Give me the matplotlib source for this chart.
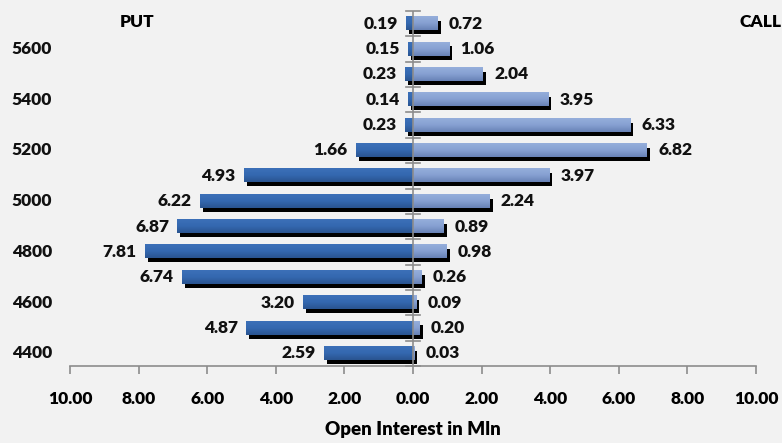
import numpy as np
import matplotlib
matplotlib.use("Agg")
import matplotlib.pyplot as plt
import matplotlib.transforms as mtransforms
from matplotlib.colors import LinearSegmentedColormap

strikes = [4400, 4500, 4600, 4700, 4800, 4900, 5000, 5100, 5200, 5300, 5400, 5500, 5600, 5700]
put_oi = [2.59, 4.87, 3.20, 6.74, 7.81, 6.87, 6.22, 4.93, 1.66, 0.23, 0.14, 0.23, 0.15, 0.19]
call_oi = [0.03, 0.20, 0.09, 0.26, 0.98, 0.89, 2.24, 3.97, 6.82, 6.33, 3.95, 2.04, 1.06, 0.72]
x_ticks = [-10, -8, -6, -4, -2, 0, 2, 4, 6, 8, 10]
labelled_strikes = [4400, 4600, 4800, 5000, 5200, 5400, 5600]

plt.rcParams['font.family'] = ['Lato', 'DejaVu Sans']
FS = 12.5
WT = 'heavy'
BG = '#f2f2f2'

fig = plt.figure(figsize=(7.82, 4.43), dpi=100, facecolor=BG)
ax = fig.add_axes([70 / 782, 1 - 366 / 443, (756 - 70) / 782, (366 - 11) / 443])
ax.set_facecolor(BG)

H = 0.52
ypos = np.arange(len(strikes))

put_cmap = LinearSegmentedColormap.from_list('put', ['#3c70b8', '#3468b0', '#2a5490'])
call_cmap = LinearSegmentedColormap.from_list('call', ['#95aedb', '#86a0d2', '#6882b6'])
grad = np.linspace(0, 1, 64).reshape(-1, 1)

shadow_tr = ax.transData + mtransforms.ScaledTranslation(3 / 100, -4 / 100, fig.dpi_scale_trans)

# drop shadows first, bars on top
for y, p, c in zip(ypos, put_oi, call_oi):
    ax.barh(y, -p, height=H, color='black', transform=shadow_tr, zorder=1)
    ax.barh(y, c, height=H, color='black', transform=shadow_tr, zorder=1)

for y, p, c in zip(ypos, put_oi, call_oi):
    ax.imshow(grad, cmap=put_cmap, aspect='auto', origin='upper',
              extent=(-p, 0, y - H / 2, y + H / 2), zorder=2, interpolation='bilinear')
    ax.imshow(grad, cmap=call_cmap, aspect='auto', origin='upper',
              extent=(0, c, y - H / 2, y + H / 2), zorder=2, interpolation='bilinear')
    ax.annotate(f'{p:.2f}', (-p, y), xytext=(-6, 0), textcoords='offset points',
                ha='right', va='center', fontsize=FS, fontweight=WT, color='#111111')
    ax.annotate(f'{c:.2f}', (c, y), xytext=(8, 0), textcoords='offset points',
                ha='left', va='center', fontsize=FS, fontweight=WT, color='#111111')

ax.set_xlim(-10, 10)
ax.set_ylim(-0.5, len(strikes) - 0.5)

# centre axis with tick marks on the category boundaries
ax.axvline(0, color='#8c8c8c', lw=1.2, zorder=3)
for b in np.arange(-0.5, len(strikes), 1.0):
    ax.plot([-0.2, 0.2], [b, b], color='#8c8c8c', lw=1.2, zorder=3, clip_on=False)

for s in ['top', 'right', 'left']:
    ax.spines[s].set_visible(False)
ax.spines['bottom'].set_color('#8c8c8c')
ax.spines['bottom'].set_linewidth(1.2)

ax.set_xticks(x_ticks)
ax.set_xticklabels([f'{abs(v):.2f}' for v in x_ticks], fontsize=FS, fontweight=WT)
ax.tick_params(axis='x', length=6, width=1.2, color='#8c8c8c', pad=12)
ax.set_yticks([])

for s in labelled_strikes:
    ax.text(-0.085, strikes.index(s), str(s), transform=ax.get_yaxis_transform(),
            ha='left', va='center', fontsize=FS, fontweight=WT, color='#111111')

fig.text(137 / 782, 1 - 22 / 443, 'PUT', ha='center', va='center', fontsize=FS, fontweight=WT)
fig.text(739 / 782, 1 - 22 / 443, 'CALL', ha='left', va='center', fontsize=FS, fontweight=WT)
fig.text(413 / 782, 1 - 430 / 443, 'Open Interest in Mln', ha='center', va='center',
         fontsize=13.5, fontweight=WT)

fig.savefig('out.png', dpi=100, facecolor=BG)
